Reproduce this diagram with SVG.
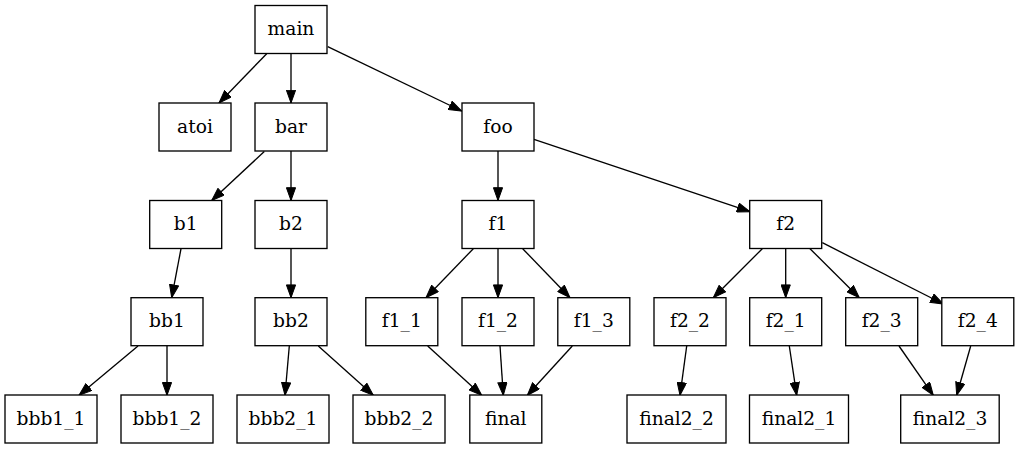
<svg xmlns="http://www.w3.org/2000/svg" width="1019" height="449" viewBox="0 0 1019 449">
<style>
.n rect{fill:#fff;stroke:#000;stroke-width:1.33}
.n text{font-family:"DejaVu Serif","Liberation Serif",serif;font-size:18.67px;text-anchor:middle;fill:#000}
#edges line{stroke:#000;stroke-width:1.33;marker-end:url(#arr)}
</style>
<defs>
<marker id="arr" viewBox="0 0 14 10" refX="13.3" refY="5" markerWidth="14" markerHeight="10" orient="auto" markerUnits="userSpaceOnUse">
<path d="M0.5,0.4 L13.3,5 L0.5,9.6 Z" fill="#000" stroke="#000" stroke-width="1"/>
</marker>
</defs>
<rect width="1019" height="449" fill="#fff"/>
<g id="edges">
<line x1="266.7" y1="53.7" x2="219" y2="103"/>
<line x1="291" y1="53.7" x2="291" y2="103"/>
<line x1="327.7" y1="46.7" x2="461.7" y2="111"/>
<line x1="264.3" y1="151.5" x2="211.7" y2="200.5"/>
<line x1="291" y1="151" x2="291" y2="200.5"/>
<line x1="498" y1="151" x2="498" y2="200.5"/>
<line x1="534" y1="139.3" x2="750" y2="211.7"/>
<line x1="181" y1="248.7" x2="171.7" y2="297.7"/>
<line x1="291" y1="248.7" x2="291" y2="297.7"/>
<line x1="473.3" y1="248.7" x2="426" y2="297.7"/>
<line x1="498" y1="248.7" x2="498" y2="297.7"/>
<line x1="522.7" y1="248.7" x2="570" y2="297.7"/>
<line x1="762.3" y1="248.7" x2="713.3" y2="297.7"/>
<line x1="785.7" y1="248.7" x2="785.7" y2="297.7"/>
<line x1="810" y1="248.7" x2="859.3" y2="297.7"/>
<line x1="822.3" y1="242.7" x2="943.3" y2="304"/>
<line x1="138" y1="346" x2="79" y2="395.3"/>
<line x1="167" y1="346" x2="167" y2="395.3"/>
<line x1="289.3" y1="346" x2="285" y2="395.3"/>
<line x1="318.3" y1="346" x2="373.3" y2="395.3"/>
<line x1="427.7" y1="346" x2="481.7" y2="395.3"/>
<line x1="500" y1="346" x2="503.3" y2="395.3"/>
<line x1="572.3" y1="346" x2="527.3" y2="395.3"/>
<line x1="686.7" y1="346" x2="680" y2="395.3"/>
<line x1="789.3" y1="346" x2="796.7" y2="395.3"/>
<line x1="899" y1="346" x2="933.3" y2="395.3"/>
<line x1="970.7" y1="346" x2="956.7" y2="395.3"/>
</g>
<g id="main" class="n"><rect x="255" y="5.5" width="72" height="48"/><text x="291" y="35">main</text></g>
<g id="atoi" class="n"><rect x="159" y="103" width="72" height="48"/><text x="195" y="132.5">atoi</text></g>
<g id="bar" class="n"><rect x="255" y="103" width="72" height="48"/><text x="291" y="132.5">bar</text></g>
<g id="foo" class="n"><rect x="462" y="103" width="72" height="48"/><text x="498" y="132.5">foo</text></g>
<g id="b1" class="n"><rect x="149.7" y="200.5" width="72" height="48"/><text x="185.7" y="230">b1</text></g>
<g id="b2" class="n"><rect x="255" y="200.5" width="72" height="48"/><text x="291" y="230">b2</text></g>
<g id="f1" class="n"><rect x="462" y="200.5" width="72" height="48"/><text x="498" y="230">f1</text></g>
<g id="f2" class="n"><rect x="749.7" y="200.5" width="72" height="48"/><text x="785.7" y="230">f2</text></g>
<g id="bb1" class="n"><rect x="131" y="297.7" width="72" height="48"/><text x="167" y="327.2">bb1</text></g>
<g id="bb2" class="n"><rect x="255" y="297.7" width="72" height="48"/><text x="291" y="327.2">bb2</text></g>
<g id="f1_1" class="n"><rect x="365.8" y="297.7" width="72" height="48"/><text x="401.8" y="327.2">f1_1</text></g>
<g id="f1_2" class="n"><rect x="462" y="297.7" width="72" height="48"/><text x="498" y="327.2">f1_2</text></g>
<g id="f1_3" class="n"><rect x="557.8" y="297.7" width="72" height="48"/><text x="593.8" y="327.2">f1_3</text></g>
<g id="f2_2" class="n"><rect x="654" y="297.7" width="72" height="48"/><text x="690" y="327.2">f2_2</text></g>
<g id="f2_1" class="n"><rect x="749.7" y="297.7" width="72" height="48"/><text x="785.7" y="327.2">f2_1</text></g>
<g id="f2_3" class="n"><rect x="845.7" y="297.7" width="72" height="48"/><text x="881.7" y="327.2">f2_3</text></g>
<g id="f2_4" class="n"><rect x="941.8" y="297.7" width="72" height="48"/><text x="977.8" y="327.2">f2_4</text></g>
<g id="bbb1_1" class="n"><rect x="5" y="395" width="92" height="48"/><text x="51" y="424.5">bbb1_1</text></g>
<g id="bbb1_2" class="n"><rect x="121" y="395" width="92" height="48"/><text x="167" y="424.5">bbb1_2</text></g>
<g id="bbb2_1" class="n"><rect x="237" y="395" width="92" height="48"/><text x="283" y="424.5">bbb2_1</text></g>
<g id="bbb2_2" class="n"><rect x="353" y="395" width="92" height="48"/><text x="399" y="424.5">bbb2_2</text></g>
<g id="final" class="n"><rect x="469.8" y="395" width="72" height="48"/><text x="505.8" y="424.5">final</text></g>
<g id="final2_2" class="n"><rect x="627" y="395" width="99" height="48"/><text x="676.5" y="424.5">final2_2</text></g>
<g id="final2_1" class="n"><rect x="749.5" y="395" width="99" height="48"/><text x="799" y="424.5">final2_1</text></g>
<g id="final2_3" class="n"><rect x="900.7" y="395" width="98.5" height="48"/><text x="950" y="424.5">final2_3</text></g>
</svg>
